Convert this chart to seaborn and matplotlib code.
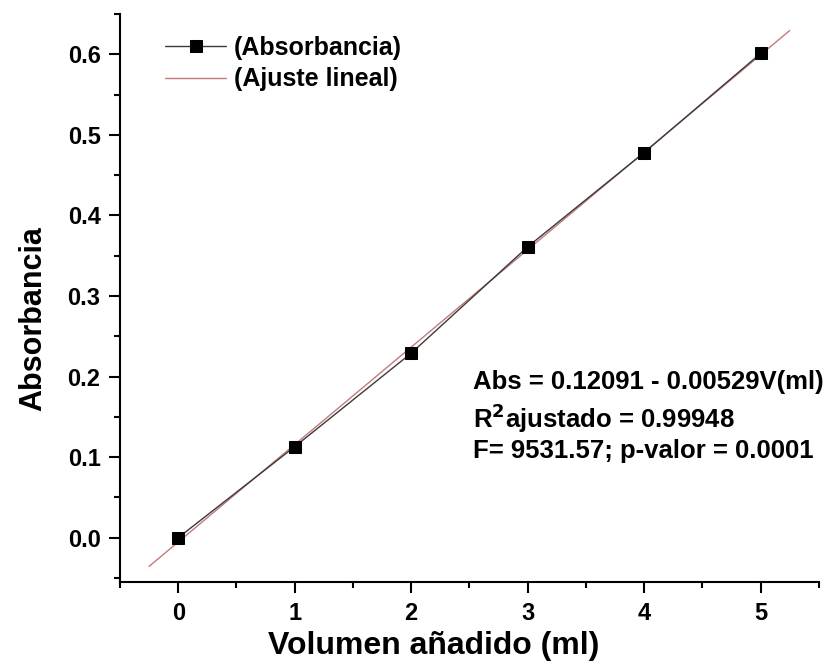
import numpy as np
import pandas as pd
import matplotlib
matplotlib.use("Agg")
import matplotlib.pyplot as plt
import seaborn as sns
from matplotlib.ticker import MultipleLocator, FormatStrFormatter

volumen = [0, 1, 2, 3, 4, 5]
absorbancia = [0.0, 0.113, 0.229, 0.361, 0.478, 0.601]
pendiente = 0.12091
intercepto = -0.00529
fit_x = [-0.25, 5.25]
fit_y = [intercepto + pendiente * v for v in fit_x]

sns.set_style("ticks")
plt.rcParams['font.family'] = ['Liberation Sans', 'DejaVu Sans']
plt.rcParams['font.weight'] = 'bold'
plt.rcParams['text.color'] = 'black'
plt.rcParams['axes.labelcolor'] = 'black'
plt.rcParams['xtick.color'] = 'black'
plt.rcParams['ytick.color'] = 'black'
plt.rcParams['axes.edgecolor'] = 'black'

fig = plt.figure(figsize=(8.33, 6.66), dpi=100)
ax = fig.add_axes([0.144, 0.126, 0.839, 0.853])

df = pd.DataFrame({"V": volumen, "A": absorbancia})
dfit = pd.DataFrame({"V": fit_x, "A": fit_y})

sns.lineplot(data=df, x="V", y="A", ax=ax, color="#3a3a3a", linewidth=1.0,
             marker="s", markersize=8.5, markerfacecolor="black",
             markeredgecolor="black", label="(Absorbancia)", zorder=3)
sns.lineplot(data=dfit, x="V", y="A", ax=ax, color="#c47a7a", linewidth=1.0,
             label="(Ajuste lineal)", zorder=2)

ax.set_xlim(-0.5, 5.5)
ax.set_ylim(-0.055, 0.65)
ax.xaxis.set_major_locator(MultipleLocator(1))
ax.xaxis.set_minor_locator(MultipleLocator(0.5))
ax.yaxis.set_major_locator(MultipleLocator(0.1))
ax.yaxis.set_minor_locator(MultipleLocator(0.05))
ax.yaxis.set_major_formatter(FormatStrFormatter('%.1f'))

for s in ["top", "right"]:
    ax.spines[s].set_visible(False)
for s in ["left", "bottom"]:
    ax.spines[s].set_linewidth(1.5)
    ax.spines[s].set_color("black")
ax.tick_params(which="major", direction="out", length=8, width=1.5,
               labelsize=17, pad=6, colors="black")
ax.tick_params(which="minor", direction="out", length=4.5, width=1.5,
               colors="black")
for lab in ax.get_xticklabels() + ax.get_yticklabels():
    lab.set_fontweight("bold")

ax.set_xlabel("Volumen añadido (ml)", fontsize=23, fontweight="bold", color="black")
ax.set_ylabel("Absorbancia", fontsize=22, fontweight="bold", color="black")
ax.xaxis.set_label_coords(0.449, -0.086)
ax.yaxis.set_label_coords(-0.103, 0.464)

leg = ax.legend(loc="upper left", bbox_to_anchor=(0.05, 0.979), frameon=False,
                prop={"size": 18, "weight": "bold"}, handlelength=2.45,
                handletextpad=0.3, labelspacing=0.3, borderaxespad=0)
for t in leg.get_texts():
    t.set_color("black")

ax.text(0.505, 0.3726, "Abs = 0.12091 - 0.00529V(ml)\nR$^\\mathbf{2}$ajustado = 0.99948\nF= 9531.57; p-valor = 0.0001",
        transform=ax.transAxes, fontsize=18.5, fontweight="bold",
        va="top", ha="left", linespacing=1.25, color="black")

fig.savefig("out.png", dpi=100)
